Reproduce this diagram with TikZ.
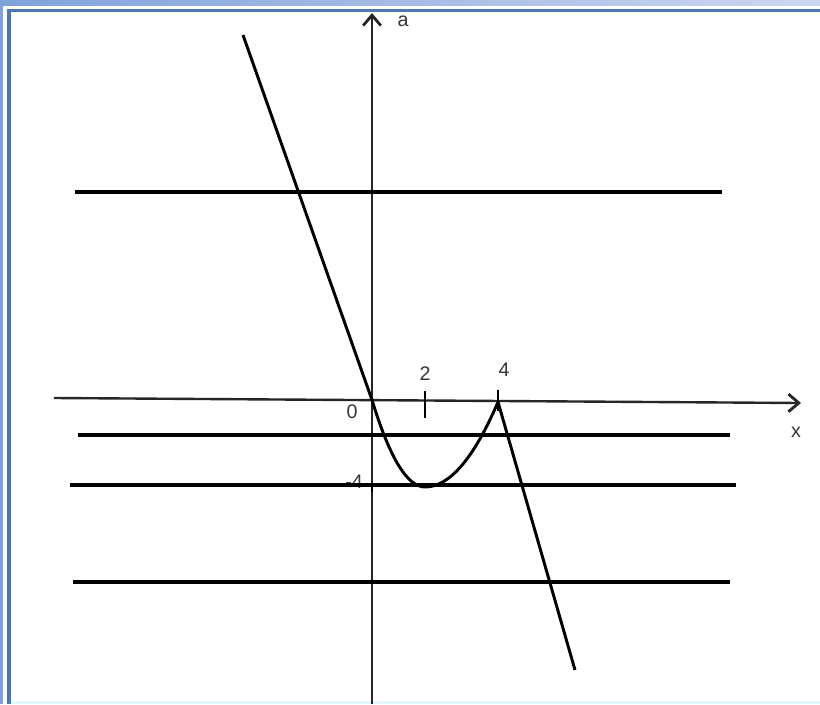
\documentclass[tikz,border=0pt]{standalone}
\usepackage{fontspec}
\setmainfont{Liberation Sans}
\usepackage{tikz}
\usetikzlibrary{arrows.meta}

\definecolor{slideblue}{RGB}{128,162,218}
\definecolor{slidepale}{RGB}{205,214,240}
\definecolor{frameblue}{RGB}{78,118,176}
\definecolor{labelgray}{RGB}{55,55,55}

\begin{document}
\begin{tikzpicture}[
  x=0.025cm, y=-0.025cm,
  font=\fontsize{14}{16}\selectfont,
  axis/.style={line width=1.7pt, black!85, -{Straight Barb[length=2.6mm, width=4.4mm, line width=2pt]}},
  level/.style={line width=2.3pt, black},
  graph/.style={line width=2.1pt, black},
  tick/.style={line width=2pt, black},
  lbl/.style={text=labelgray, inner sep=1pt}
]
\useasboundingbox (0,0) rectangle (820,704);
% slide frame
\fill[white] (0,0) rectangle (820,704);
\shade[left color=slideblue, right color=slidepale] (0,0) rectangle (820,5);
\fill[slideblue] (0,0) rectangle (3,704);
\fill[frameblue] (7,9) rectangle (820,12);
\fill[frameblue] (7,9) rectangle (11,704);
\fill[cyan!10] (11,701) rectangle (820,704);

% axes
\coordinate (O) at (372,400);
\coordinate (xstart) at (54,398);
\coordinate (xend) at (801,403);
\coordinate (ystart) at (372,704);
\coordinate (yend) at (372,13);
\draw[axis] (xstart) -- (xend);
\draw[axis] (ystart) -- (yend);
\node[lbl] (alab) at (403,21) {a};
\node[lbl] (xlab) at (796,432) {x};
\node[lbl] (zero) at (352,412) {0};
\node[lbl] (two) at (425,374) {2};
\node[lbl] (four) at (504,370) {4};
\node[lbl] (mfour) at (354,482) {-4};

% ticks
\draw[tick] (425,391) -- (425,418);
\draw[tick] (498,390) -- (498,411);
\draw[tick] (372,483) -- (372,492);

% levels a = const
\draw[level] (75,192) -- (722,192);
\draw[level] (78,435) -- (730,435);
\draw[level] (70,485) -- (736,485);
\draw[level] (73,582) -- (730,582);

% graph of a(x)
\coordinate (topleft) at (243,35);
\coordinate (vertex) at (425,487);
\coordinate (peak) at (498,402);
\coordinate (botright) at (575,670);
\draw[graph] (topleft) -- (O)
  .. controls (389.7,458) and (407.3,487) .. (vertex)
  .. controls (449.3,487) and (473.7,458.7) .. (peak)
  -- (botright);
\end{tikzpicture}
\end{document}
